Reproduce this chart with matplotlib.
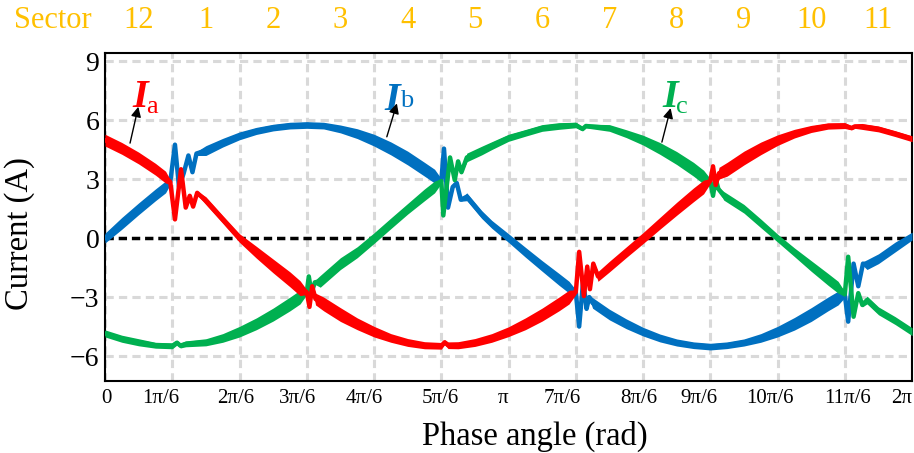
import numpy as np
import matplotlib.pyplot as plt
from matplotlib.transforms import ScaledTranslation

plt.rcParams["font.family"] = ["Liberation Serif", "DejaVu Serif"]

RED = "#FF0000"
BLUE = "#0070C0"
GREEN = "#00B050"
GOLD = "#FFC000"
GRID = "#D9D9D9"

rad = np.pi / 6  # one sector

# phase currents: angle (in sectors), centre value (A), ripple half-width (A)
ia_s = [0, 0.25, 0.5, 0.75, 0.9, 0.97, 1.04, 1.13, 1.2, 1.26,
        1.31, 1.37, 1.5, 1.75, 2.0, 2.25, 2.5, 2.75, 2.9, 3.0,
        3.04, 3.08, 3.13, 3.25, 3.5, 3.75, 4.0, 4.25, 4.5, 4.75,
        5.0, 5.05, 5.1, 5.25, 5.5, 5.75, 6.0, 6.25, 6.5, 6.75,
        6.9, 7.0, 7.05, 7.12, 7.17, 7.21, 7.26, 7.33, 7.5, 7.75,
        8.0, 8.25, 8.5, 8.75, 8.9, 9.0, 9.04, 9.08, 9.13, 9.25,
        9.5, 9.75, 10.0, 10.25, 10.5, 10.75, 11.0, 11.1, 11.15, 11.25,
        11.5, 11.75, 12.0]
ia_v = [4.98, 4.56, 4.07, 3.5, 3.1, 2.85, 0.95, 3.5, 1.55, 2.15,
        1.6, 2.3, 1.9, 0.95, 0.0, -0.72, -1.42, -2.1, -2.55, -2.75,
        -3.5, -2.45, -3.1, -3.35, -3.89, -4.36, -4.76, -5.08, -5.31, -5.45,
        -5.48, -5.3, -5.45, -5.45, -5.31, -5.08, -4.76, -4.36, -3.89, -3.35,
        -3.0, -2.75, -0.7, -2.95, -1.45, -2.6, -1.3, -1.95, -1.45, -0.72,
        0.0, 0.75, 1.49, 2.2, 2.6, 2.9, 3.65, 2.7, 3.3, 3.5,
        4.07, 4.56, 4.98, 5.31, 5.55, 5.7, 5.72, 5.6, 5.68, 5.68,
        5.55, 5.31, 5.05]
ia_r = [0.3, 0.3, 0.3, 0.3, 0.3, 0.12, 0, 0, 0, 0,
        0, 0.1, 0.2, 0.2, 0.22, 0.3, 0.35, 0.38, 0.38, 0.12,
        0, 0.1, 0.3, 0.35, 0.35, 0.3, 0.27, 0.22, 0.2, 0.18,
        0.17, 0.12, 0.17, 0.18, 0.2, 0.22, 0.25, 0.3, 0.33, 0.35,
        0.35, 0.12, 0, 0, 0, 0, 0.1, 0.25, 0.27, 0.27,
        0.28, 0.3, 0.33, 0.35, 0.35, 0.12, 0, 0.1, 0.3, 0.35,
        0.35, 0.32, 0.27, 0.22, 0.18, 0.16, 0.15, 0.1, 0.1, 0.15,
        0.15, 0.15, 0.15]

ib_s = [0, 0.25, 0.5, 0.75, 0.9, 0.97, 1.04, 1.1, 1.17, 1.24,
        1.3, 1.36, 1.5, 1.75, 2.0, 2.25, 2.5, 2.75, 3.0, 3.25,
        3.5, 3.75, 4.0, 4.25, 4.5, 4.75, 4.9, 5.0, 5.04, 5.1,
        5.17, 5.23, 5.29, 5.38, 5.6, 5.75, 6.0, 6.25, 6.5, 6.75,
        6.9, 7.0, 7.05, 7.11, 7.16, 7.2, 7.25, 7.5, 7.75, 8.0,
        8.25, 8.5, 8.75, 9.0, 9.25, 9.5, 9.75, 10.0, 10.25, 10.5,
        10.75, 10.9, 11.0, 11.05, 11.13, 11.2, 11.27, 11.33, 11.5, 11.75,
        12.0]
ib_v = [0.0, 0.75, 1.49, 2.2, 2.6, 2.85, 4.75, 2.6, 3.3, 4.2,
        3.35, 4.3, 4.45, 4.85, 5.2, 5.45, 5.62, 5.72, 5.75, 5.72,
        5.55, 5.31, 4.98, 4.56, 4.07, 3.5, 3.15, 2.9, 4.55, 1.55,
        2.6, 2.8, 1.95, 2.1, 1.2, 0.7, 0.0, -0.72, -1.42, -2.1,
        -2.5, -2.75, -4.5, -2.15, -3.6, -3.0, -3.3, -3.89, -4.36, -4.76,
        -5.08, -5.31, -5.45, -5.52, -5.45, -5.31, -5.08, -4.76, -4.36, -3.89,
        -3.35, -3.05, -2.9, -4.25, -1.3, -2.45, -1.3, -1.35, -1.05, -0.45,
        0.1]
ib_r = [0.25, 0.3, 0.3, 0.3, 0.3, 0.12, 0, 0, 0, 0,
        0, 0.1, 0.25, 0.22, 0.2, 0.18, 0.17, 0.17, 0.17, 0.17,
        0.2, 0.25, 0.3, 0.33, 0.35, 0.35, 0.35, 0.12, 0, 0,
        0, 0, 0.08, 0.2, 0.2, 0.2, 0.22, 0.25, 0.27, 0.3,
        0.3, 0.12, 0, 0, 0, 0.1, 0.27, 0.27, 0.25, 0.22,
        0.2, 0.18, 0.17, 0.17, 0.17, 0.18, 0.22, 0.27, 0.32, 0.35,
        0.35, 0.35, 0.12, 0, 0, 0, 0.1, 0.25, 0.25, 0.25,
        0.2]

ic_s = [0, 0.25, 0.5, 0.75, 1.0, 1.07, 1.12, 1.2, 1.5, 1.75,
        2.0, 2.25, 2.5, 2.75, 2.9, 3.0, 3.03, 3.07, 3.12, 3.2,
        3.5, 3.75, 4.0, 4.25, 4.5, 4.75, 4.9, 5.0, 5.03, 5.13,
        5.2, 5.25, 5.3, 5.38, 5.6, 5.75, 6.0, 6.25, 6.5, 6.75,
        7.0, 7.1, 7.15, 7.5, 7.75, 8.0, 8.25, 8.5, 8.75, 8.9,
        9.0, 9.04, 9.08, 9.12, 9.2, 9.5, 9.75, 10.0, 10.25, 10.5,
        10.75, 10.9, 11.0, 11.05, 11.13, 11.2, 11.26, 11.33, 11.5, 11.75,
        12.0]
ic_v = [-4.85, -5.12, -5.3, -5.45, -5.48, -5.32, -5.47, -5.38, -5.3, -5.08,
        -4.76, -4.36, -3.89, -3.35, -3.0, -2.75, -1.95, -2.8, -2.25, -2.2,
        -1.3, -0.72, 0.0, 0.75, 1.49, 2.2, 2.6, 2.9, 1.15, 4.1,
        2.95, 3.9, 3.35, 4.1, 4.45, 4.7, 5.1, 5.35, 5.6, 5.7,
        5.75, 5.55, 5.7, 5.6, 5.31, 4.98, 4.56, 4.07, 3.5, 3.1,
        2.9, 2.15, 3.0, 2.5, 2.15, 1.49, 0.75, 0.0, -0.72, -1.42,
        -2.1, -2.5, -2.85, -0.95, -4.0, -2.8, -3.4, -3.15, -3.7, -4.2,
        -4.76]
ic_r = [0.18, 0.18, 0.18, 0.15, 0.15, 0.12, 0.12, 0.15, 0.18, 0.22,
        0.27, 0.3, 0.33, 0.35, 0.35, 0.12, 0, 0, 0.1, 0.3,
        0.3, 0.28, 0.27, 0.27, 0.27, 0.3, 0.3, 0.12, 0, 0,
        0, 0, 0.08, 0.22, 0.22, 0.2, 0.18, 0.17, 0.17, 0.17,
        0.14, 0.1, 0.1, 0.17, 0.2, 0.25, 0.3, 0.33, 0.35, 0.35,
        0.12, 0, 0, 0.1, 0.22, 0.22, 0.22, 0.2, 0.22, 0.27,
        0.3, 0.3, 0.12, 0, 0, 0, 0.1, 0.2, 0.2, 0.2,
        0.2]

x_ticklabels = ["0", "1π/6", "2π/6", "3π/6", "4π/6", "5π/6", "π",
                "7π/6", "8π/6", "9π/6", "10π/6", "11π/6", "2π"]
sectors = ["12", "1", "2", "3", "4", "5", "6", "7", "8", "9", "10", "11"]
y_ticks = [-6, -3, 0, 3, 6, 9]

fig = plt.figure(figsize=(9.14, 4.53), dpi=100)
ax = fig.add_axes([0.1149, 0.1589, 0.883, 0.724])

# background grid
for k in range(13):
    ax.axvline(k * rad, color=GRID, lw=2.2, ls=(0, (2.7, 1.7)), zorder=0)
for y in y_ticks:
    if y != 0:
        ax.axhline(y, color=GRID, lw=2.2, ls=(0, (2.7, 1.7)), zorder=0)
ax.axhline(0, color="black", lw=2.5, ls=(0, (2.4, 1.4)), zorder=1)


def draw_phase(s, v, r, color, z):
    th = np.array(s) * rad
    v = np.array(v)
    r = np.array(r)
    ax.fill_between(th, v - r, v + r, color=color, lw=0, zorder=z)
    ax.plot(th, v, color=color, lw=3.2, zorder=z)


draw_phase(ib_s, ib_v, ib_r, BLUE, 3)
draw_phase(ic_s, ic_v, ic_r, GREEN, 4)
draw_phase(ia_s, ia_v, ia_r, RED, 5)

# phase labels with arrows
labels = [("a", RED, 0.40, 6.66, 0.61, 6.36, (0.372, 4.83), (0.495, 6.68)),
          ("b", BLUE, 4.16, 6.51, 4.39, 6.66, (4.19, 5.15), (4.34, 6.85)),
          ("c", GREEN, 8.28, 6.66, 8.49, 6.36, (8.28, 4.88), (8.41, 6.61))]
for sub, col, xi, yi, xs, ys, tail, head in labels:
    ax.text(xi * rad, yi, "I", color=col, fontsize=29, style="italic",
            weight="bold", ha="left", va="baseline", zorder=6)
    ax.text(xs * rad, ys, sub, color=col, fontsize=19, ha="left",
            va="baseline", zorder=6)
    ax.annotate("", xy=(head[0] * rad, head[1]), xytext=(tail[0] * rad, tail[1]),
                arrowprops=dict(arrowstyle="-|>", color="black", lw=1,
                                mutation_scale=15, shrinkA=0, shrinkB=0),
                zorder=6)

# sector numbers above the plot
for k, name in enumerate(sectors):
    ax.text((k + 0.5) * rad, 1.1, name, color=GOLD, fontsize=22,
            ha="center", va="center", transform=ax.get_xaxis_transform())
fig.text(53 / 914, 1 - 20 / 453, "Sector", color=GOLD, fontsize=22,
         ha="center", va="center")

ax.set_xlim(0, 2 * np.pi)
ax.set_ylim(-7.27, 9.41)
ax.set_xticks(np.arange(13) * rad)
ax.set_xticklabels(x_ticklabels)
ax.set_yticks(y_ticks)
ax.tick_params(axis="both", length=0)
ax.tick_params(axis="x", labelsize=15, pad=6)
ax.tick_params(axis="y", labelsize=20, pad=4)

# nudge the x tick labels sideways
shifts = [1, -12, -4, -9, -10, -1, -6, -14, -4, -11, -8, 3, -10]
for lbl, dx in zip(ax.get_xticklabels(), shifts):
    lbl.set_transform(lbl.get_transform() + ScaledTranslation(dx / 100, 0, fig.dpi_scale_trans))

for sp in ax.spines.values():
    sp.set_linewidth(1.5)

ax.set_xlabel("Phase angle (rad)", fontsize=23.5)
ax.set_ylabel("Current (A)", fontsize=23.5)
ax.xaxis.set_label_coords(0.532, -0.122)
ax.yaxis.set_label_coords(-0.087, 0.45)

fig.savefig("out.png", dpi=100)
